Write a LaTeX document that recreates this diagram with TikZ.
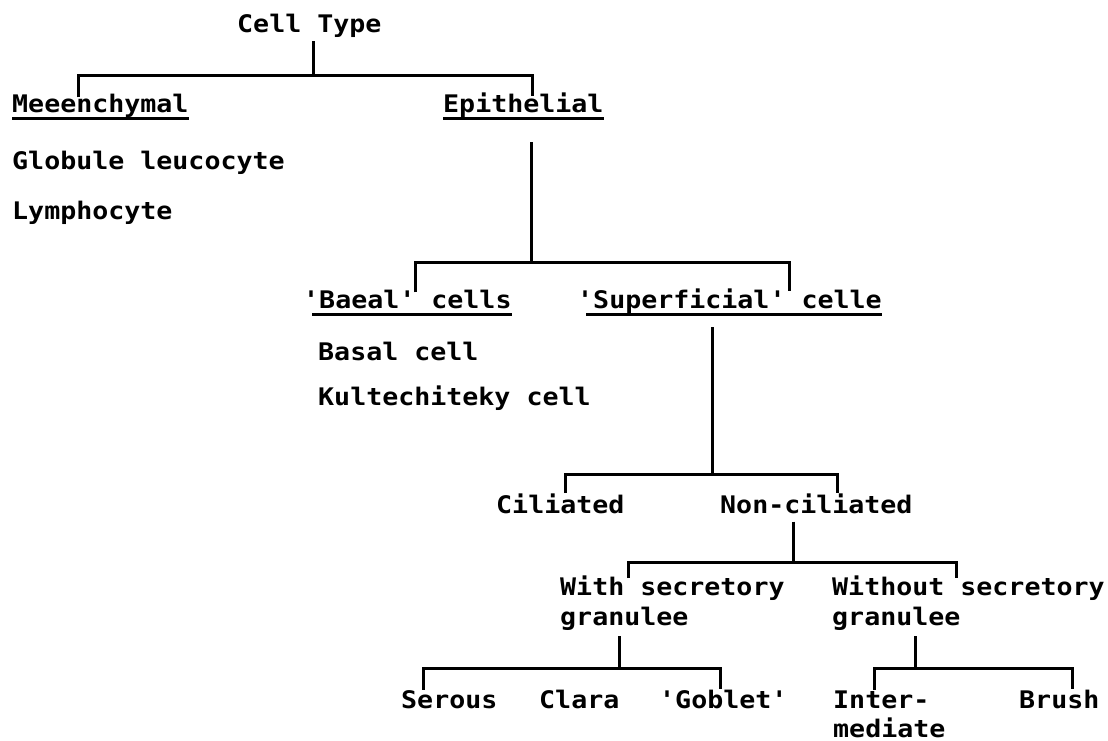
\documentclass[tikz,border=0pt]{standalone}
\usepackage{fontspec}
\setmonofont{DejaVu Sans Mono}[FakeStretch=1.1]
\begin{document}
\begin{tikzpicture}[x=1pt,y=-1pt,
  lbl/.style={font=\ttfamily\bfseries\fontsize{24.2}{29}\selectfont, inner sep=0pt, anchor=base west},
  ln/.style={line width=3pt, line join=miter},
  ul/.style={line width=3pt}]
\useasboundingbox (0,0) rectangle (1108,741);
% nodes
\node[lbl] (ct)  at (237,33)  {Cell Type};
\node[lbl] (mes) at (12,113)  {Meeenchymal};
\node[lbl] (epi) at (443,113) {Epithelial};
\node[lbl] (glo) at (12,169)  {Globule leucocyte};
\node[lbl] (lym) at (12,219)  {Lymphocyte};
\node[lbl] (bas) at (303,308) {'Baeal' cells};
\node[lbl] (sup) at (577,308) {'Superficial' celle};
\node[lbl] (bc)  at (318,360) {Basal cell};
\node[lbl] (kul) at (318,405) {Kultechiteky cell};
\node[lbl] (cil) at (496,513) {Ciliated};
\node[lbl] (non) at (720,513) {Non-ciliated};
\node[lbl] (wi1) at (560,595) {With secretory};
\node[lbl] (wi2) at (560,625) {granulee};
\node[lbl] (wo1) at (832,595) {Without secretory};
\node[lbl] (wo2) at (832,625) {granulee};
\node[lbl] (ser) at (401,708) {Serous};
\node[lbl] (cla) at (539,708) {Clara};
\node[lbl] (gob) at (659,708) {'Goblet'};
\node[lbl] (in1) at (833,708) {Inter-};
\node[lbl] (in2) at (833,737) {mediate};
\node[lbl] (bru) at (1019,708) {Brush};
% junctions and drop positions
\coordinate (j1) at (313,76);
\coordinate (x1l) at (78,0);  \coordinate (x1r) at (532,0);
\coordinate (j2) at (531,262);
\coordinate (x2l) at (415,0); \coordinate (x2r) at (789,0);
\coordinate (j3) at (712,474);
\coordinate (x3l) at (565,0); \coordinate (x3r) at (837,0);
\coordinate (j4) at (793,562);
\coordinate (x4l) at (628,0); \coordinate (x4r) at (956,0);
\coordinate (j5) at (619,668);
\coordinate (x5l) at (423,0); \coordinate (x5r) at (720,0);
\coordinate (j6) at (915,668);
\coordinate (x6l) at (874,0); \coordinate (x6r) at (1072,0);
% connectors
\draw[ln] ([yshift=-3pt]ct.south -| j1) -- (j1);
\draw[ln] ([yshift=-3pt]mes.north -| x1l) |- (j1) -| ([yshift=-3pt]epi.north -| x1r);
\draw[ln] ([yshift=-24pt]epi.south -| j2) -- (j2);
\draw[ln] ([yshift=-3pt]bas.north -| x2l) |- (j2) -| ([yshift=-3pt]sup.north -| x2r);
\draw[ln] ([yshift=-14pt]sup.south -| j3) -- (j3);
\draw[ln] (cil.north -| x3l) |- (j3) -| (non.north -| x3r);
\draw[ln] ([yshift=-8pt]non.south -| j4) -- (j4);
\draw[ln] ([yshift=-3pt]wi1.north -| x4l) |- (j4) -| ([yshift=-3pt]wo1.north -| x4r);
\draw[ln] ([yshift=-6pt]wi2.south -| j5) -- (j5);
\draw[ln] (ser.north -| x5l) |- (j5) -| (gob.north -| x5r);
\draw[ln] ([yshift=-6pt]wo2.south -| j6) -- (j6);
\draw[ln] (in1.north -| x6l) |- (j6) -| (bru.north -| x6r);
% underlines
\draw[ul] ([yshift=-6pt]mes.base west) -- ([yshift=-6pt]mes.base east);
\draw[ul] ([yshift=-6pt]epi.base west) -- ([yshift=-6pt]epi.base east);
\draw[ul] ([xshift=9pt,yshift=-6pt]bas.base west) -- ([yshift=-6pt]bas.base east);
\draw[ul] ([xshift=9pt,yshift=-6pt]sup.base west) -- ([yshift=-6pt]sup.base east);
\end{tikzpicture}
\end{document}
